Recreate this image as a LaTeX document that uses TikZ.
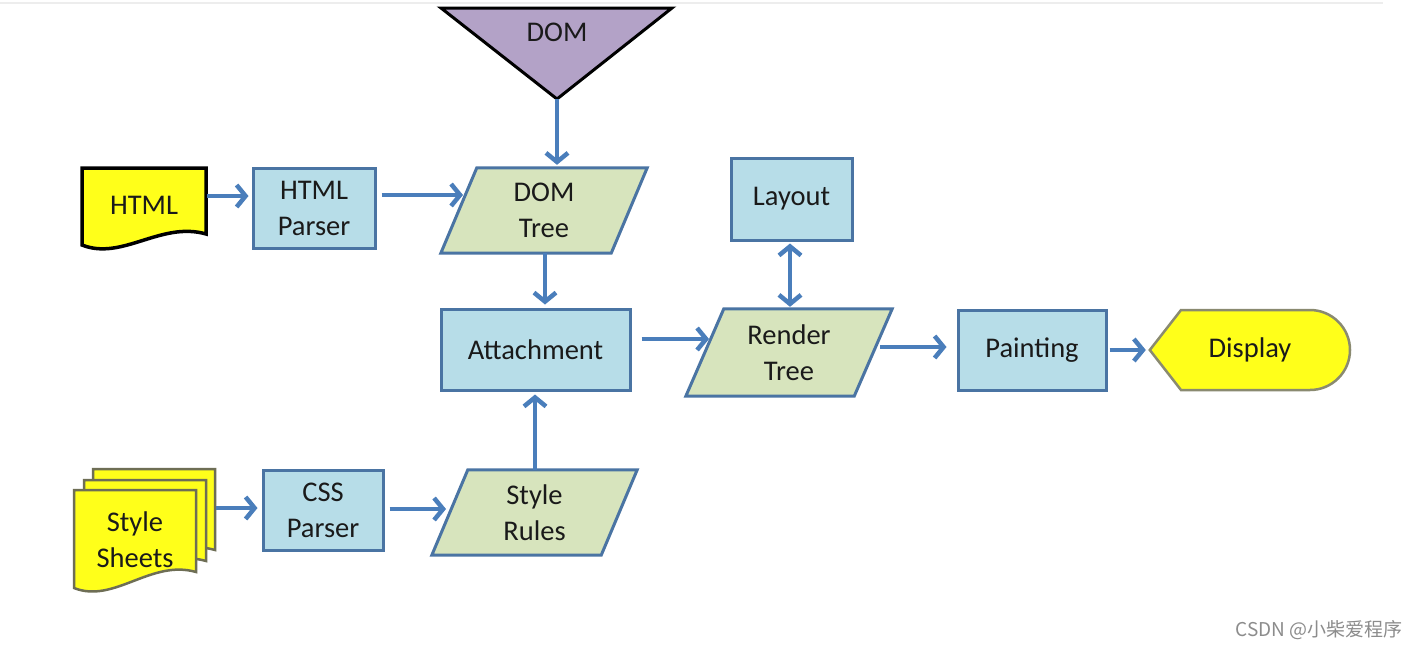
\documentclass[tikz,border=0pt]{standalone}
\usepackage{fontspec}
\setmainfont{Carlito}
\newfontfamily\cjk{Noto Sans CJK SC}
\usetikzlibrary{arrows.meta,calc,backgrounds}
\definecolor{boxfill}{HTML}{B7DDE8}
\definecolor{boxline}{HTML}{4A74A3}
\definecolor{pfill}{HTML}{D7E4BD}
\definecolor{arrc}{HTML}{4A7EBB}
\definecolor{docyellow}{HTML}{FFFF1A}
\definecolor{domfill}{HTML}{B3A2C7}
\definecolor{ssline}{HTML}{6E6E55}
\definecolor{displine}{HTML}{8A8A70}
\definecolor{txtc}{HTML}{1A1A1A}
\newcommand\docshape[6]{%
  \path[#6] (#1,#2) -- (#3,#2) -- (#3,#5)
    .. controls ({#3-45},{#5-13}) and ({#1+40},{#4+16}) .. (#1,#4) -- cycle;}
\begin{document}
\begin{tikzpicture}[x=1pt,y=-1pt,
  txt/.style={font=\fontsize{28.5}{36}\selectfont, text=txtc, align=center, inner sep=0pt},
  rbox/.style={txt, draw=boxline, fill=boxfill, line width=3pt},
  pnode/.style={txt},
  pshape/.style={draw=boxline, fill=pfill, line width=3pt, line join=miter},
  tipb/.style={Straight Barb[length=9pt,width=22pt]},
  arr/.style={draw=arrc, line width=4.5pt, -{Straight Barb[length=9pt,width=22pt]}},
  darr/.style={draw=arrc, line width=4.5pt, {Straight Barb[length=9pt,width=22pt]}-{Straight Barb[length=9pt,width=22pt]}}
]
\useasboundingbox (0,0) rectangle (1417,649);

% nodes
\node[txt, minimum width=231pt, minimum height=20pt] (dom) at (557,32) {DOM};
\coordinate (domtip) at (557,99);
\node[txt, minimum width=124pt, minimum height=77pt] (html) at (144,206.5) {\raisebox{3pt}{HTML}};
\node[rbox, minimum width=122pt, minimum height=80pt] (hp) at (314,208) {HTML\\Parser};
\node[pnode, minimum width=206pt, minimum height=85pt] (dt) at (544,210.5) {DOM\\Tree};
\node[rbox, minimum width=121pt, minimum height=82pt] (layout) at (791.5,199) {Layout};
\node[rbox, minimum width=189pt, minimum height=81pt] (att) at (535.5,349.5) {Attachment};
\node[pnode, minimum width=206pt, minimum height=87pt] (rt) at (789,352.5) {Render\\Tree};
\node[rbox, minimum width=148pt, minimum height=80pt] (paint) at (1032,350) {Painting};
\node[txt, minimum width=200pt, minimum height=80pt] (disp) at (1250,350) {Display};
\node[txt, minimum width=122pt, minimum height=100pt] (ss) at (135,540) {Style\\Sheets};
\node[rbox, minimum width=120pt, minimum height=80pt] (css) at (323,510) {CSS\\Parser};
\node[pnode, minimum width=205pt, minimum height=85pt] (sr) at (534.5,512.5) {Style\\Rules};
\node[font=\cjk\fontsize{19}{22}\selectfont, text=black!45, anchor=east, inner sep=0pt] (wm) at (1403,630) {CSDN @小柴爱程序};

% shapes behind text
\begin{scope}[on background layer]
  \fill[white] (0,0) rectangle (1417,649);
  \draw[black!7, line width=2pt] (0,3) -- (1383,3);
  \path[draw=black, fill=domfill, line width=3pt, line join=miter] (441,8) -- (672,8) -- (domtip) -- cycle;
  \docshape{82}{168}{206}{245}{234}{draw=black, fill=docyellow, line width=3.5pt}
  \docshape{93}{469}{215}{560}{550}{draw=ssline, fill=docyellow, line width=2.5pt}
  \docshape{84}{480}{206}{572}{561}{draw=ssline, fill=docyellow, line width=2.5pt}
  \docshape{74}{490}{196}{588}{572}{draw=ssline, fill=docyellow, line width=2.5pt}
  \path[pshape] (dt.south west) -- ($(dt.north west)+(36,0)$) -- (dt.north east) -- ($(dt.south east)+(-36,0)$) -- cycle;
  \path[pshape] (rt.south west) -- ($(rt.north west)+(38,0)$) -- (rt.north east) -- ($(rt.south east)+(-38,0)$) -- cycle;
  \path[pshape] (sr.south west) -- ($(sr.north west)+(36,0)$) -- (sr.north east) -- ($(sr.south east)+(-36,0)$) -- cycle;
  \path[draw=displine, fill=docyellow, line width=2.5pt] (disp.west) -- (1181,310) -- (1310,310)
    .. controls (1332,310) and (1350,328) .. (1350,350)
    .. controls (1350,372) and (1332,390) .. (1310,390) -- (1181,390) -- cycle;
\end{scope}

% connectors
\draw[arr] ($(html.east)+(1,-10.5)$) -- ($(hp.west)+(-3,-12)$);
\draw[arr] ($(hp.east)+(5,-13)$) -- ($(dt.center)+(-81,-15.5)$);
\draw[arr] (domtip) -- ($(dt.north)+(13,-3)$);
\draw[arr] ($(dt.south)+(1,0)$) -- ($(att.north)+(9.5,-3)$);
\draw[arr] ($(att.east)+(10,-10.5)$) -- ($(rt.center)+(-80,-13.5)$);
\draw[darr] ($(layout.south)+(-1.5,2)$) -- ($(rt.north)+(1,-2)$);
\draw[arr] ($(rt.center)+(91,-5.5)$) -- ($(paint.west)+(-10,-3)$);
\draw[arr] ($(paint.east)+(2,0)$) -- ($(disp.west)+(-4,0)$);
\draw[arr] ($(ss.east)+(20,-32)$) -- ($(css.west)+(-4,-2)$);
\draw[arr] ($(css.east)+(5,-1)$) -- ($(sr.center)+(-88.5,-3.5)$);
\draw[arr] ($(sr.north)+(0.5,0)$) -- ($(att.south)+(-0.5,3)$);
\end{tikzpicture}
\end{document}
